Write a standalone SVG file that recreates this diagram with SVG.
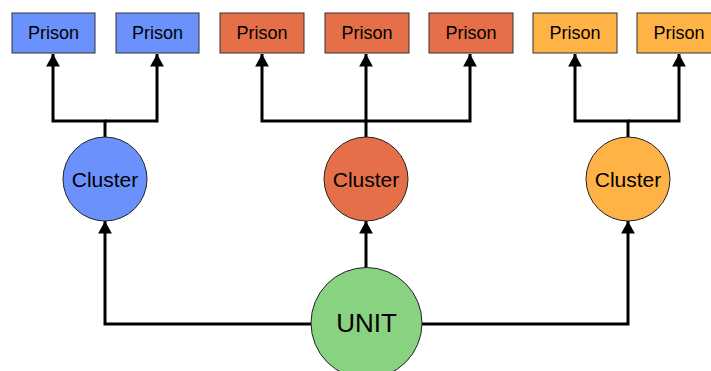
<svg xmlns="http://www.w3.org/2000/svg" width="711" height="371" viewBox="0 0 711 371">
<style>
.box{stroke:#333;stroke-width:1}
.b{fill:#6b92fc}.r{fill:#e56f48}.y{fill:#ffb347}.g{fill:#88d281}
.circ{stroke:#222;stroke-width:1}
text{font-family:"Liberation Sans",Arial,sans-serif;fill:#000;text-anchor:middle;dominant-baseline:central}
.pt{font-size:18px}.ct{font-size:21px}.ut{font-size:26px}
.ln{fill:none;stroke:#000;stroke-width:3}
</style>
<defs>
<marker id="ah" markerWidth="4.2" markerHeight="4.6" refX="4.2" refY="2.3" orient="auto" markerUnits="strokeWidth">
<path d="M0,0 L4.2,2.3 L0,4.6 Z" fill="#000"/>
</marker>
</defs>
<g id="connectors">
<path class="ln" d="M105,137 V121 H53 V54" marker-end="url(#ah)"/>
<path class="ln" d="M105,121 H157 V54" marker-end="url(#ah)"/>
<path class="ln" d="M366,137 V121 H262 V54" marker-end="url(#ah)"/>
<path class="ln" d="M366,121 V54" marker-end="url(#ah)"/>
<path class="ln" d="M366,121 H470 V54" marker-end="url(#ah)"/>
<path class="ln" d="M628,137 V121 H575 V54" marker-end="url(#ah)"/>
<path class="ln" d="M628,121 H679 V54" marker-end="url(#ah)"/>
<path class="ln" d="M311,324 H105 V221" marker-end="url(#ah)"/>
<path class="ln" d="M366,268 V221" marker-end="url(#ah)"/>
<path class="ln" d="M422,324 H628 V221" marker-end="url(#ah)"/>
</g>
<g id="prison1"><rect class="box b" x="12" y="13" width="83" height="40"/><text class="pt" x="53.5" y="33">Prison</text></g>
<g id="prison2"><rect class="box b" x="116" y="13" width="83" height="40"/><text class="pt" x="157.5" y="33">Prison</text></g>
<g id="prison3"><rect class="box r" x="220" y="13" width="84" height="40"/><text class="pt" x="262" y="33">Prison</text></g>
<g id="prison4"><rect class="box r" x="325" y="13" width="84" height="40"/><text class="pt" x="367" y="33">Prison</text></g>
<g id="prison5"><rect class="box r" x="429" y="13" width="84" height="40"/><text class="pt" x="471" y="33">Prison</text></g>
<g id="prison6"><rect class="box y" x="533" y="13" width="84" height="40"/><text class="pt" x="575" y="33">Prison</text></g>
<g id="prison7"><rect class="box y" x="637" y="13" width="84" height="40"/><text class="pt" x="679" y="33">Prison</text></g>
<g id="cluster1"><circle class="circ b" cx="105" cy="179" r="42"/><text class="ct" x="105" y="179">Cluster</text></g>
<g id="cluster2"><circle class="circ r" cx="366" cy="179" r="42"/><text class="ct" x="366" y="179">Cluster</text></g>
<g id="cluster3"><circle class="circ y" cx="628" cy="179" r="42"/><text class="ct" x="628" y="179">Cluster</text></g>
<g id="unit"><circle class="circ g" cx="366.5" cy="323" r="55.5"/><text class="ut" x="366.5" y="323">UNIT</text></g>
</svg>
